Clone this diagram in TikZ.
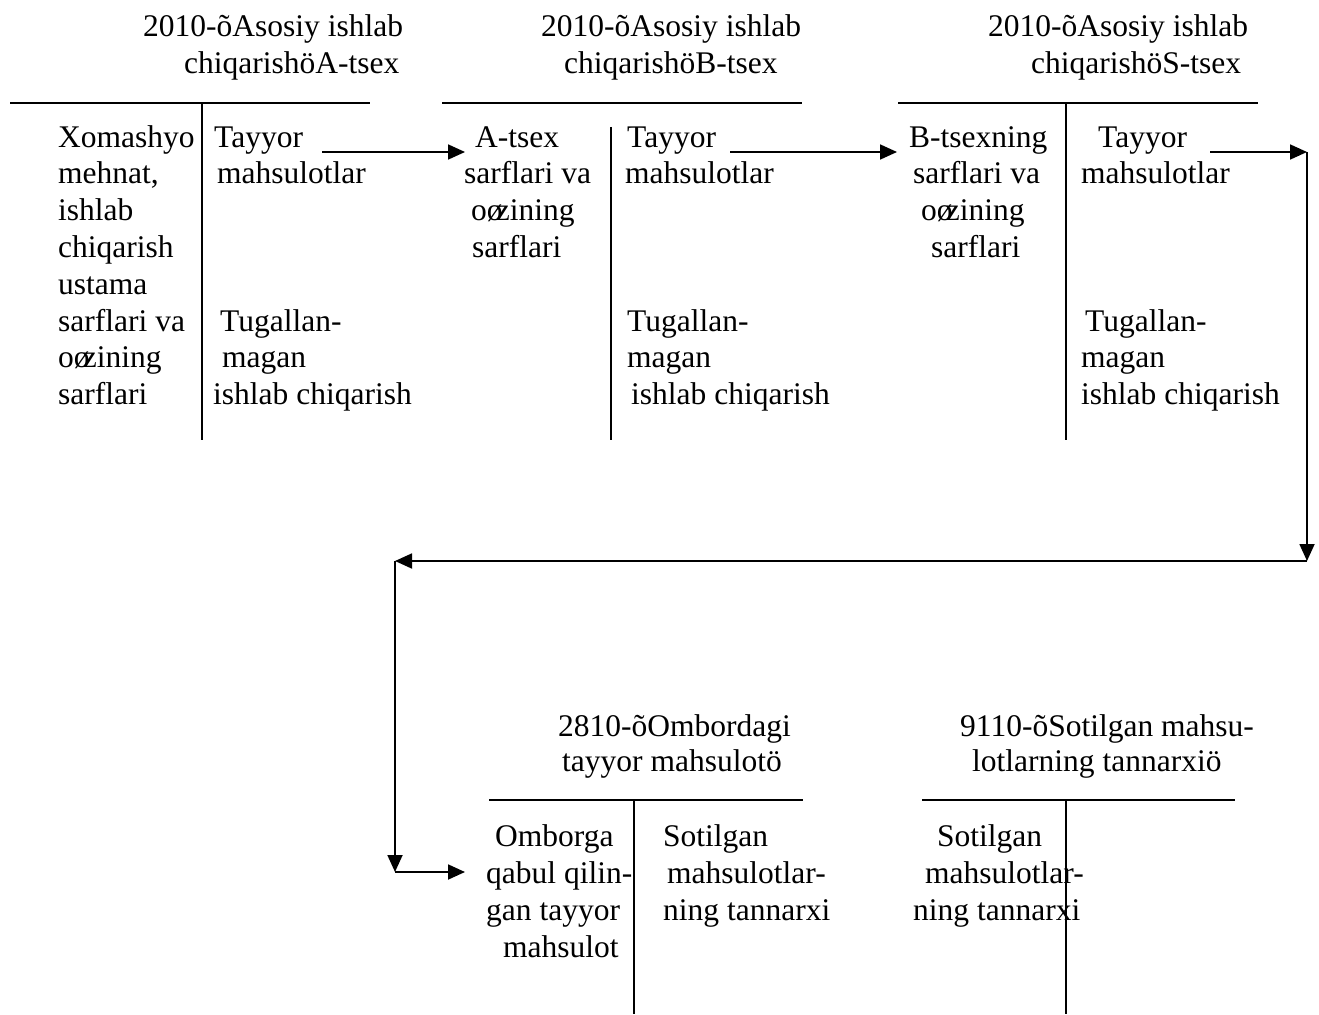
\documentclass[tikz,border=0pt]{standalone}
\usepackage{fontspec}
\setmainfont{Liberation Serif}
\usetikzlibrary{arrows.meta}
\newcommand{\oz}{o\kern0pt ø\kern-0.22em zining}
\begin{document}
\begin{tikzpicture}[x=1pt,y=-1pt,
  txt/.style={anchor=base west,inner sep=0pt,font=\fontsize{31.5}{37}\selectfont},
  rule/.style={line width=1.8pt},
  arr/.style={line width=1.8pt,-{Triangle[length=17pt,width=15pt]}}]
\useasboundingbox (0,0) rectangle (1319,1014);
% ---------- Account A ----------
\node[txt] (ha1) at (143,37) {2010-õAsosiy ishlab};
\node[txt] (ha2) at (184,74) {chiqarishöA-tsex};
\coordinate (ra1) at (10,103); \coordinate (ra2) at (370,103);
\coordinate (va1) at (202,103); \coordinate (va2) at (202,440);
\draw[rule] (ra1) -- (ra2); \draw[rule] (va1) -- (va2);
\node[txt] (al1) at (58,147) {Xomashyo};
\node[txt] (al2) at (58,183) {mehnat,};
\node[txt] (al3) at (58,220) {ishlab};
\node[txt] (al4) at (58,257) {chiqarish};
\node[txt] (al5) at (58,294) {ustama};
\node[txt] (al6) at (58,331) {sarflari va};
\node[txt] (al7) at (58,367) {\oz};
\node[txt] (al8) at (58,404) {sarflari};
\node[txt] (ar1) at (214,147) {Tayyor};
\node[txt] (ar2) at (217,183) {mahsulotlar};
\node[txt] (ar3) at (220,331) {Tugallan-};
\node[txt] (ar4) at (222,367) {magan};
\node[txt] (ar5) at (213,404) {ishlab chiqarish};
% ---------- Account B ----------
\node[txt] (hb1) at (541,37) {2010-õAsosiy ishlab};
\node[txt] (hb2) at (564,74) {chiqarishöB-tsex};
\coordinate (rb1) at (442,103); \coordinate (rb2) at (802,103);
\coordinate (vb1) at (611,127); \coordinate (vb2) at (611,440);
\draw[rule] (rb1) -- (rb2); \draw[rule] (vb1) -- (vb2);
\node[txt] (bl1) at (475,147) {A-tsex};
\node[txt] (bl2) at (464,183) {sarflari va};
\node[txt] (bl3) at (471,220) {\oz};
\node[txt] (bl4) at (472,257) {sarflari};
\node[txt] (br1) at (627,147) {Tayyor};
\node[txt] (br2) at (625,183) {mahsulotlar};
\node[txt] (br3) at (627,331) {Tugallan-};
\node[txt] (br4) at (627,367) {magan};
\node[txt] (br5) at (631,404) {ishlab chiqarish};
% ---------- Account S ----------
\node[txt] (hc1) at (988,37) {2010-õAsosiy ishlab};
\node[txt] (hc2) at (1031,74) {chiqarishöS-tsex};
\coordinate (rc1) at (898,103); \coordinate (rc2) at (1258,103);
\coordinate (vc1) at (1066,103); \coordinate (vc2) at (1066,440);
\draw[rule] (rc1) -- (rc2); \draw[rule] (vc1) -- (vc2);
\node[txt] (cl1) at (909,147) {B-tsexning};
\node[txt] (cl2) at (913,183) {sarflari va};
\node[txt] (cl3) at (921,220) {\oz};
\node[txt] (cl4) at (931,257) {sarflari};
\node[txt] (cr1) at (1098,147) {Tayyor};
\node[txt] (cr2) at (1081,183) {mahsulotlar};
\node[txt] (cr3) at (1085,331) {Tugallan-};
\node[txt] (cr4) at (1081,367) {magan};
\node[txt] (cr5) at (1081,404) {ishlab chiqarish};
% ---------- Account 2810 ----------
\node[txt] (hd1) at (558,736) {2810-õOmbordagi};
\node[txt] (hd2) at (562,771) {tayyor mahsulotö};
\coordinate (rd1) at (489,800); \coordinate (rd2) at (803,800);
\coordinate (vd1) at (634,800); \coordinate (vd2) at (634,1014);
\draw[rule] (rd1) -- (rd2); \draw[rule] (vd1) -- (vd2);
\node[txt] (dl1) at (495,846) {Omborga};
\node[txt] (dl2) at (486,883) {qabul qilin-};
\node[txt] (dl3) at (486,920) {gan tayyor};
\node[txt] (dl4) at (503,957) {mahsulot};
\node[txt] (dr1) at (663,846) {Sotilgan};
\node[txt] (dr2) at (667,883) {mahsulotlar-};
\node[txt] (dr3) at (663,920) {ning tannarxi};
% ---------- Account 9110 ----------
\node[txt] (he1) at (960,736) {9110-õSotilgan mahsu-};
\node[txt] (he2) at (972,771) {lotlarning tannarxiö};
\coordinate (re1) at (922,800); \coordinate (re2) at (1235,800);
\coordinate (ve1) at (1066,800); \coordinate (ve2) at (1066,1014);
\draw[rule] (re1) -- (re2); \draw[rule] (ve1) -- (ve2);
\node[txt] (el1) at (937,846) {Sotilgan};
\node[txt] (el2) at (925,883) {mahsulotlar-};
\node[txt] (el3) at (913,920) {ning tannarxi};
% ---------- Connectors ----------
\coordinate (p1s) at (322,152); \coordinate (p1e) at (465,152);
\coordinate (p2s) at (730,152); \coordinate (p2e) at (897,152);
\coordinate (p3s) at (1210,152); \coordinate (k1) at (1307,152);
\coordinate (k2) at (1307,561); \coordinate (k3) at (395,561);
\coordinate (k4) at (395,872); \coordinate (p4e) at (465,872);
\draw[arr] (p1s) -- (p1e);
\draw[arr] (p2s) -- (p2e);
\draw[arr] (p3s) -- (k1);
\draw[arr] (k1) -- (k2);
\draw[arr] (k2) -- (k3);
\draw[arr] (k3) -- (k4);
\draw[arr] (k4) -- (p4e);
\end{tikzpicture}
\end{document}
